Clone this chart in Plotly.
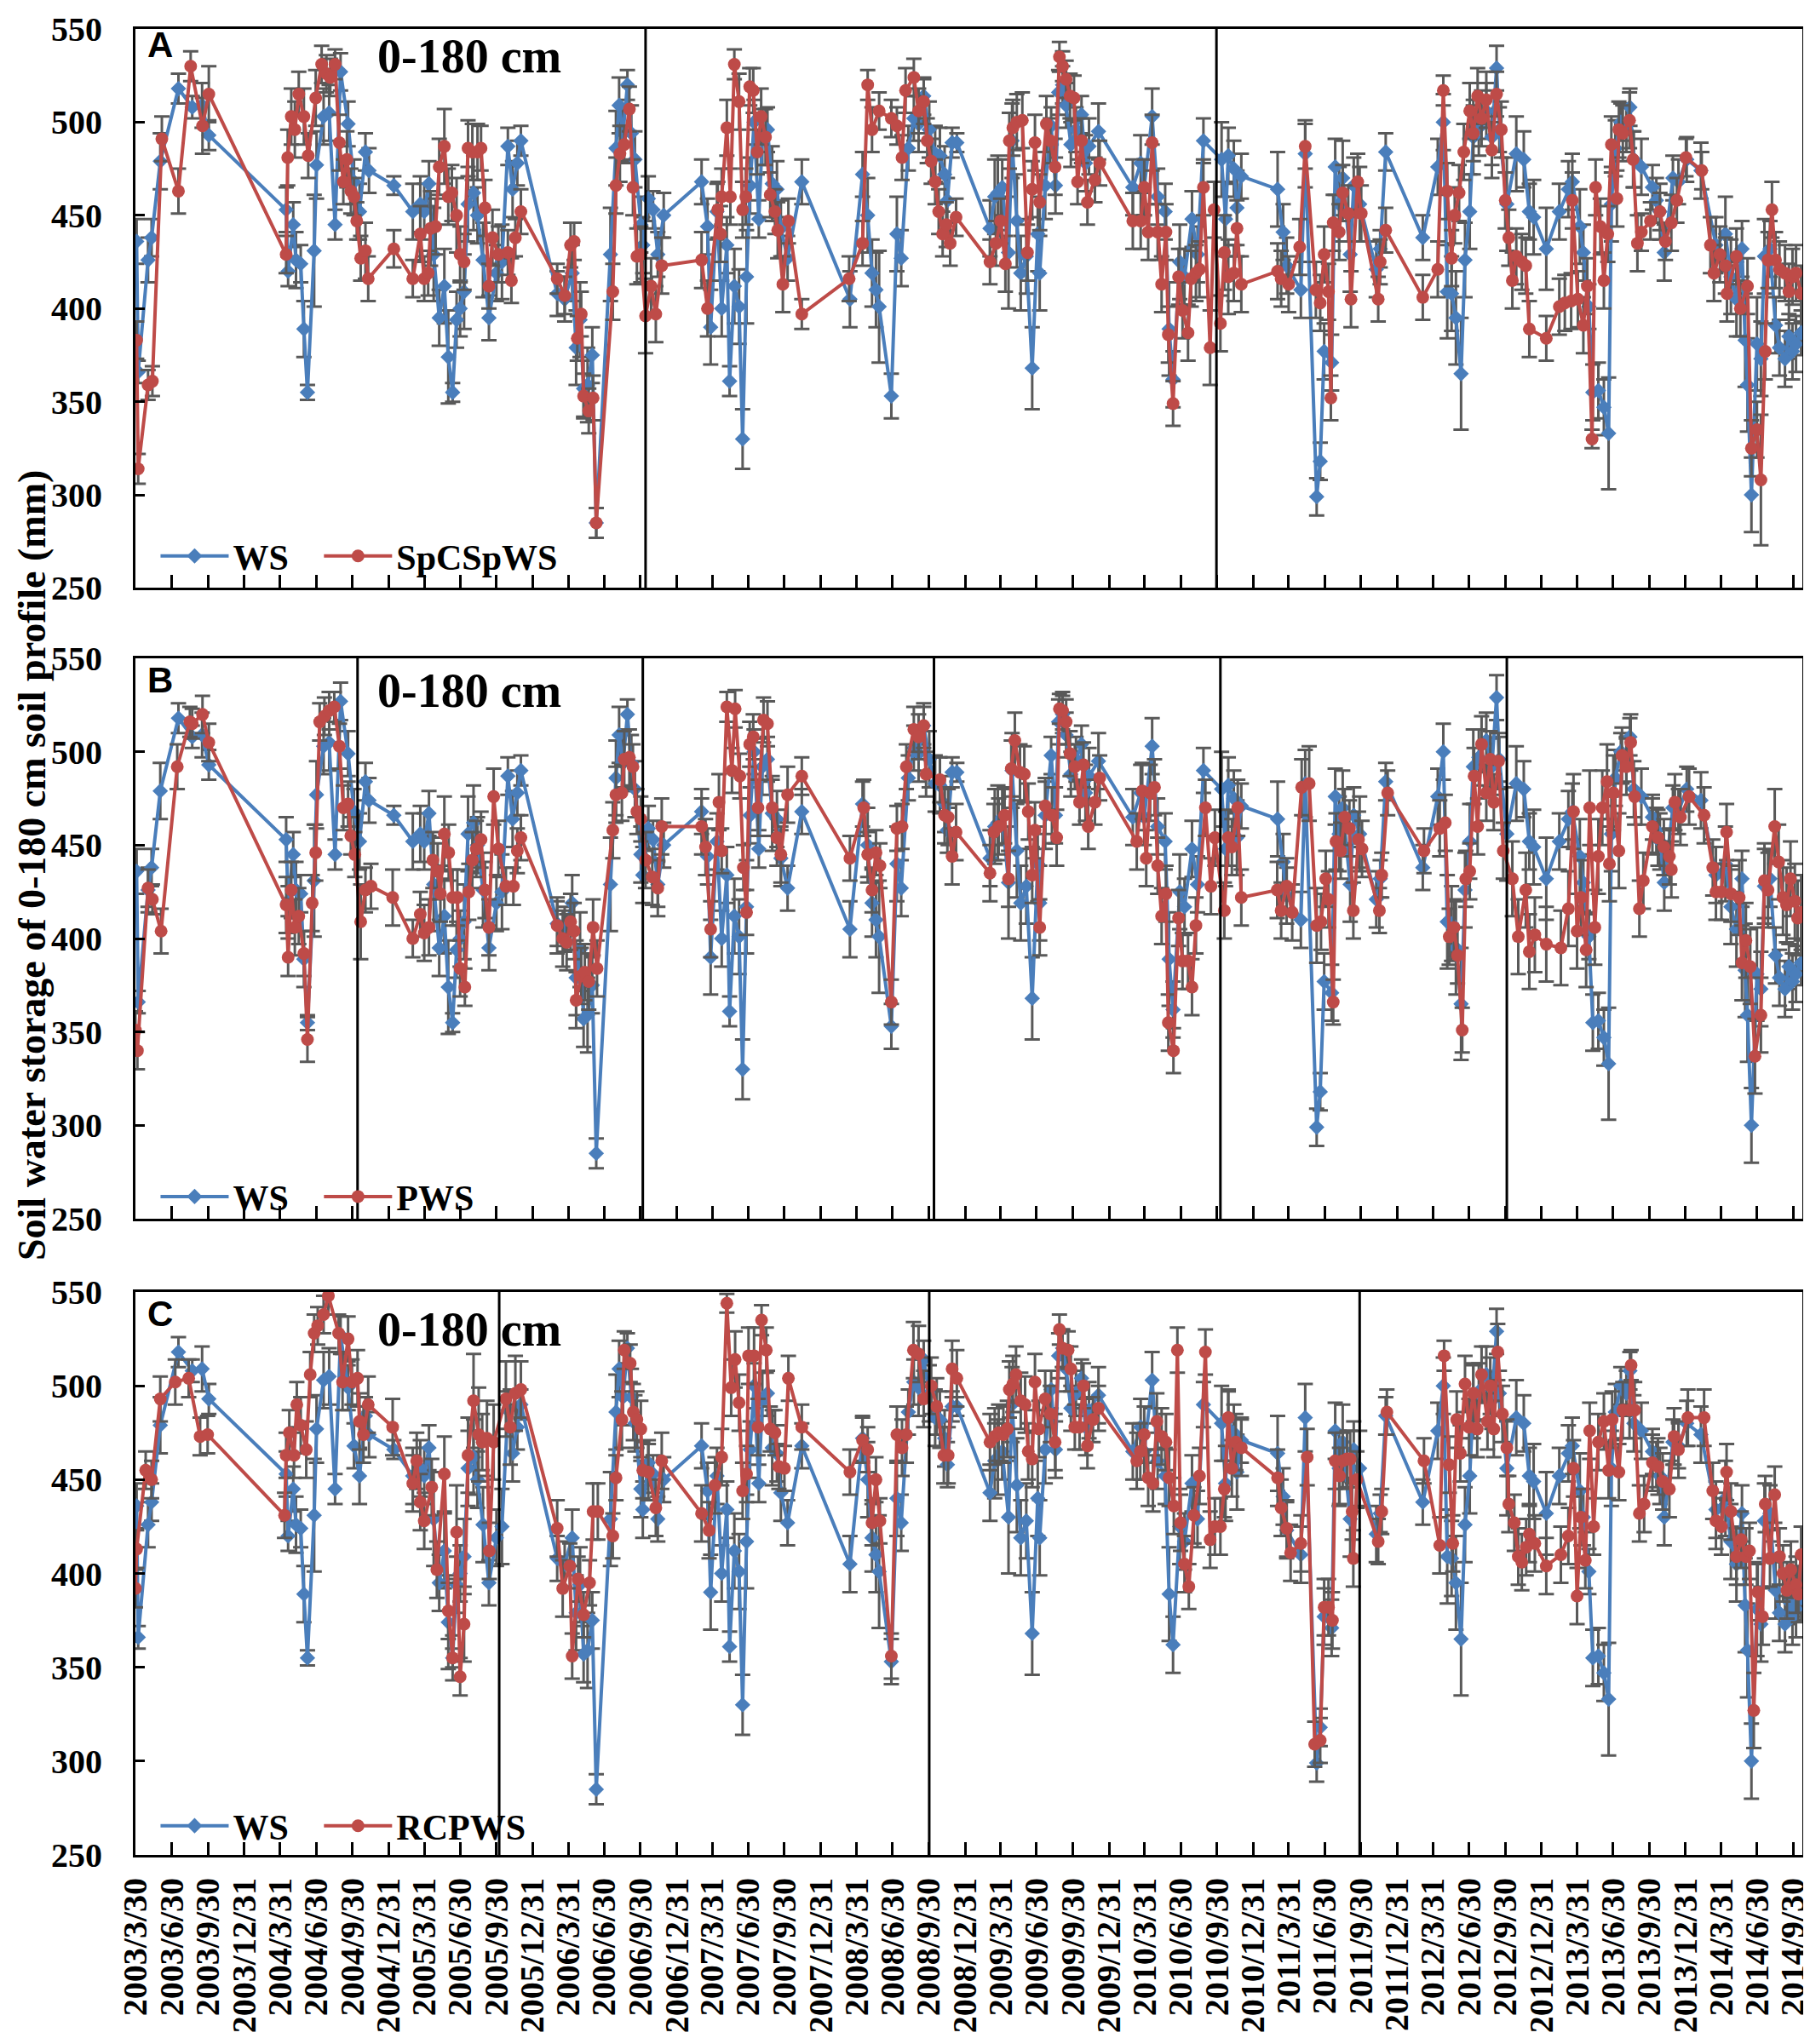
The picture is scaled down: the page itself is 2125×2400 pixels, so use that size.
import pandas as pd
import plotly.graph_objects as go

# days counted from 2003/3/30 (left edge of the axis), values in mm

start = pd.Timestamp("2003-03-30")

tick_labels = [
    "2003/3/30", "2003/6/30", "2003/9/30", "2003/12/31",
    "2004/3/31", "2004/6/30", "2004/9/30", "2004/12/31",
    "2005/3/31", "2005/6/30", "2005/9/30", "2005/12/31",
    "2006/3/31", "2006/6/30", "2006/9/30", "2006/12/31",
    "2007/3/31", "2007/6/30", "2007/9/30", "2007/12/31",
    "2008/3/31", "2008/6/30", "2008/9/30", "2008/12/31",
    "2009/3/31", "2009/6/30", "2009/9/30", "2009/12/31",
    "2010/3/31", "2010/6/30", "2010/9/30", "2010/12/31",
    "2011/3/31", "2011/6/30", "2011/9/30", "2011/12/31",
    "2012/3/31", "2012/6/30", "2012/9/30", "2012/12/31",
    "2013/3/31", "2013/6/30", "2013/9/30", "2013/12/31",
    "2014/3/31", "2014/6/30", "2014/9/30",
]

# WS (same in the three panels)
ws_day = [
    3, 7, 32, 41, 63, 109, 144, 169, 186, 382,
    387, 400, 407, 419, 427, 436, 453, 459, 477, 491,
    506, 520, 539, 554, 568, 583, 592, 655, 703, 722,
    732, 744, 756, 770, 783, 793, 804, 814, 823, 833,
    843, 857, 867, 881, 896, 915, 929, 944, 956, 968,
    977, 1069, 1088, 1107, 1117, 1127, 1136, 1146, 1158, 1168,
    1204, 1218, 1226, 1236, 1247, 1257, 1266, 1281, 1286, 1300,
    1312, 1324, 1339, 1435, 1450, 1458, 1474, 1486, 1499, 1506,
    1518, 1530, 1539, 1549, 1558, 1568, 1580, 1589, 1602, 1614,
    1626, 1636, 1653, 1689, 1811, 1843, 1856, 1867, 1877, 1885,
    1916, 1930, 1941, 1959, 1973, 1985, 1998, 2012, 2027, 2039,
    2051, 2058, 2070, 2082, 2166, 2178, 2186, 2197, 2213, 2222,
    2234, 2244, 2258, 2273, 2287, 2292, 2306, 2321, 2332, 2340,
    2350, 2359, 2371, 2384, 2398, 2408, 2417, 2441, 2528, 2548,
    2557, 2577, 2591, 2610, 2620, 2630, 2647, 2659, 2678, 2692,
    2707, 2753, 2763, 2770, 2784, 2792, 2803, 2895, 2909, 2918,
    2954, 2965, 2994, 3003, 3013, 3032, 3041, 3051, 3060, 3079,
    3088, 3103, 3145, 3155, 3169, 3263, 3301, 3315, 3325, 3336,
    3347, 3360, 3370, 3382, 3391, 3405, 3424, 3438, 3450, 3457,
    3476, 3500, 3519, 3533, 3544, 3576, 3609, 3632, 3642, 3661,
    3670, 3684, 3694, 3708, 3722, 3734, 3741, 3751, 3765, 3779,
    3788, 3798, 3817, 3845, 3855, 3864, 3875, 3897, 3911, 3932,
    3968, 4006, 4030, 4044, 4058, 4072, 4080, 4086, 4096, 4110,
    4120, 4129, 4143, 4157, 4167, 4181, 4191, 4200, 4209, 4222,
]
ws_val = [
    436, 366, 426, 438, 479, 518, 508, 509, 493, 453,
    420, 445, 426, 424, 389, 355, 431, 477, 503, 505,
    445, 527, 499, 468, 452, 484, 474, 466, 452, 456,
    452, 467, 429, 395, 412, 374, 355, 394, 400, 409,
    456, 462, 450, 426, 395, 419, 425, 487, 464, 478,
    490, 408, 405, 419, 379, 394, 357, 359, 375, 285,
    429, 486, 509, 494, 520, 494, 480, 445, 434, 459,
    453, 429, 450, 468, 444, 390, 452, 400, 434, 361,
    412, 401, 330, 417, 466, 500, 448, 492, 496, 467,
    464, 443, 427, 468, 405, 472, 450, 419, 410, 401,
    353, 440, 427, 486, 502, 499, 514, 496, 483, 482,
    472, 458, 489, 489, 443, 460, 462, 465, 430, 490,
    447, 419, 428, 368, 440, 419, 466, 498, 466, 516,
    520, 509, 488, 496, 504, 478, 487, 495, 465, 478,
    465, 503, 460, 452, 389, 362, 425, 417, 448, 429,
    490, 480, 448, 482, 475, 454, 471, 464, 441, 423,
    410, 483, 299, 318, 377, 371, 476, 456, 470, 429,
    466, 456, 421, 432, 484, 438, 476, 500, 409, 408,
    395, 365, 426, 452, 492, 497, 506, 492, 529, 496,
    456, 483, 480, 452, 449, 432, 452, 464, 468, 444,
    430, 401, 355, 356, 347, 333, 456, 486, 500, 496,
    508, 480, 476, 465, 458, 452, 430, 470, 468, 480,
    474, 434, 440, 417, 405, 432, 383, 359, 300, 381,
    373, 428, 432, 391, 379, 373, 385, 377, 381, 387,
]
ws_err = [
    12, 6, 12, 10, 15, 8, 6, 12, 8, 12,
    8, 12, 15, 10, 15, 4, 30, 18, 15, 15,
    8, 10, 12, 12, 15, 10, 12, 5, 15, 15,
    15, 12, 25, 15, 20, 25, 5, 15, 15, 20,
    20, 20, 15, 20, 12, 15, 20, 10, 15, 12,
    8, 12, 12, 15, 20, 20, 15, 20, 15, 8,
    25, 20, 15, 15, 8, 15, 15, 15, 15, 12,
    10, 12, 12, 12, 15, 20, 15, 15, 15, 8,
    20, 20, 16, 25, 15, 12, 10, 15, 12, 20,
    15, 15, 12, 12, 15, 12, 20, 18, 20, 30,
    12, 20, 15, 12, 12, 15, 10, 15, 15, 15,
    15, 12, 8, 5, 15, 20, 20, 15, 30, 20,
    25, 20, 20, 22, 20, 20, 18, 10, 15, 12,
    10, 12, 12, 12, 10, 15, 15, 15, 15, 15,
    15, 15, 15, 15, 25, 15, 20, 15, 15, 15,
    12, 20, 20, 15, 15, 20, 12, 20, 15, 15,
    15, 18, 10, 10, 15, 15, 15, 20, 20, 20,
    15, 20, 15, 10, 10, 12, 15, 15, 25, 20,
    25, 30, 20, 20, 20, 15, 15, 15, 12, 12,
    25, 20, 15, 15, 20, 22, 15, 15, 15, 20,
    15, 12, 15, 15, 15, 30, 20, 15, 10, 12,
    10, 15, 15, 12, 12, 15, 15, 12, 12, 12,
    15, 15, 20, 20, 20, 15, 25, 25, 20, 25,
    20, 20, 15, 15, 15, 15, 12, 15, 15, 12,
]

# panel A: SpCSpWS
spc_day = [
    3, 7, 32, 43, 67, 109, 140, 170, 186, 382,
    386, 395, 404, 414, 427, 438, 457, 472, 484, 494,
    506, 517, 527, 536, 546, 554, 561, 571, 583, 590,
    655, 703, 722, 732, 742, 748, 761, 770, 783, 793,
    802, 814, 823, 833, 843, 854, 867, 876, 886, 896,
    905, 920, 944, 953, 963, 977, 1069, 1088, 1103, 1112,
    1120, 1130, 1136, 1149, 1160, 1168, 1210, 1218, 1228, 1239,
    1252, 1261, 1271, 1281, 1293, 1307, 1319, 1334, 1435, 1450,
    1476, 1483, 1486, 1499, 1508, 1518, 1530, 1539, 1547, 1557,
    1566, 1576, 1586, 1597, 1609, 1621, 1628, 1641, 1655, 1689,
    1809, 1843, 1856, 1867, 1885, 1916, 1930, 1943, 1952, 1973,
    1985, 1998, 2007, 2017, 2027, 2036, 2046, 2055, 2065, 2080,
    2166, 2181, 2193, 2205, 2215, 2224, 2234, 2248, 2261, 2273,
    2280, 2292, 2309, 2319, 2331, 2342, 2350, 2359, 2369, 2379,
    2388, 2398, 2413, 2432, 2444, 2528, 2548, 2557, 2567, 2577,
    2591, 2601, 2612, 2618, 2630, 2644, 2654, 2668, 2676, 2688,
    2697, 2707, 2724, 2734, 2750, 2760, 2770, 2784, 2792, 2803,
    2895, 2904, 2923, 2951, 2965, 2992, 3003, 3013, 3024, 3030,
    3036, 3051, 3060, 3074, 3081, 3098, 3107, 3150, 3155, 3169,
    3263, 3301, 3315, 3325, 3336, 3344, 3355, 3367, 3382, 3391,
    3402, 3412, 3424, 3438, 3450, 3462, 3472, 3481, 3490, 3500,
    3514, 3524, 3533, 3576, 3609, 3623, 3639, 3642, 3656, 3670,
    3680, 3692, 3701, 3713, 3722, 3732, 3741, 3755, 3760, 3770,
    3787, 3796, 3807, 3817, 3840, 3864, 3878, 3893, 3907, 3930,
    3970, 3992, 4001, 4016, 4030, 4034, 4058, 4068, 4086, 4096,
    4110, 4120, 4131, 4138, 4148, 4157, 4167, 4181, 4191, 4200,
    4209, 4222,
]
spc_val = [
    383, 314, 359, 361, 491, 463, 530, 498, 515, 429,
    481, 503, 496, 515, 503, 482, 513, 531, 526, 524,
    531, 489, 468, 480, 463, 460, 447, 427, 431, 416,
    432, 416, 440, 416, 419, 443, 444, 476, 487, 460,
    462, 450, 429, 425, 486, 484, 484, 486, 454, 412,
    438, 429, 430, 415, 438, 452, 416, 407, 434, 436,
    384, 397, 353, 345, 352, 285, 409, 466, 483, 488,
    507, 465, 428, 429, 396, 412, 397, 423, 426, 400,
    453, 440, 460, 497, 460, 531, 511, 453, 460, 519,
    517, 484, 503, 492, 461, 452, 442, 413, 447, 397,
    416, 435, 520, 496, 506, 502, 498, 481, 517, 524,
    506, 511, 490, 479, 468, 452, 440, 445, 435, 449,
    425, 435, 447, 424, 490, 497, 500, 501, 430, 464,
    489, 457, 499, 490, 476, 535, 530, 523, 514, 513,
    468, 490, 457, 469, 478, 447, 447, 465, 441, 489,
    441, 413, 441, 386, 349, 417, 399, 387, 416, 419,
    421, 465, 379, 453, 392, 430, 417, 419, 443, 413,
    420, 416, 413, 433, 487, 410, 403, 429, 409, 352,
    446, 441, 462, 451, 405, 468, 451, 405, 425, 442,
    406, 421, 517, 463, 427, 450, 462, 484, 506, 494,
    514, 502, 512, 485, 515, 496, 458, 438, 415, 428,
    425, 423, 389, 384, 401, 403, 404, 458, 405, 391,
    412, 330, 465, 444, 415, 440, 488, 459, 496, 494,
    501, 480, 435, 441, 447, 452, 436, 446, 458, 481,
    474, 434, 419, 429, 423, 408, 428, 400, 412, 325,
    335, 308, 377, 426, 453, 426, 421, 419, 409, 417,
    419, 408,
]
spc_err = [
    10, 8, 8, 8, 12, 12, 8, 15, 15, 10,
    15, 15, 15, 12, 15, 12, 15, 10, 10, 10,
    8, 15, 12, 15, 12, 10, 10, 12, 15, 12,
    10, 10, 15, 12, 12, 20, 15, 15, 20, 15,
    15, 20, 15, 15, 15, 15, 15, 12, 15, 12,
    15, 15, 12, 12, 10, 12, 8, 10, 12, 10,
    12, 12, 12, 12, 12, 8, 15, 15, 15, 10,
    12, 15, 15, 15, 20, 15, 15, 15, 15, 15,
    15, 15, 15, 15, 15, 8, 15, 15, 15, 10,
    12, 12, 15, 15, 12, 12, 15, 15, 12, 8,
    12, 12, 8, 12, 10, 10, 10, 12, 12, 10,
    12, 12, 12, 12, 12, 12, 12, 12, 12, 10,
    12, 12, 12, 15, 15, 15, 15, 15, 15, 15,
    15, 15, 15, 12, 15, 8, 8, 10, 12, 12,
    12, 12, 12, 12, 12, 15, 15, 15, 15, 15,
    15, 15, 15, 15, 12, 15, 15, 15, 15, 15,
    15, 15, 20, 15, 15, 20, 20, 15, 15, 15,
    15, 15, 15, 15, 12, 15, 15, 15, 15, 12,
    15, 15, 15, 15, 15, 15, 15, 12, 12, 12,
    12, 15, 8, 15, 15, 15, 15, 15, 15, 15,
    15, 15, 15, 15, 12, 15, 15, 15, 15, 15,
    15, 15, 15, 12, 15, 15, 15, 15, 15, 15,
    15, 5, 15, 15, 15, 15, 15, 15, 15, 15,
    15, 15, 15, 10, 10, 10, 10, 15, 12, 10,
    10, 15, 15, 15, 15, 15, 15, 15, 15, 15,
    15, 35, 15, 15, 15, 15, 15, 15, 15, 15,
    15, 15,
]

# panel B: PWS
pws_day = [
    0, 5, 32, 43, 65, 106, 138, 144, 170, 186,
    382, 387, 395, 404, 414, 427, 436, 448, 457, 467,
    479, 491, 504, 517, 527, 539, 546, 556, 571, 583,
    597, 652, 703, 722, 732, 744, 754, 766, 773, 783,
    794, 804, 816, 823, 835, 845, 854, 864, 876, 886,
    896, 908, 920, 939, 958, 968, 977, 1069, 1083, 1093,
    1103, 1112, 1117, 1130, 1139, 1149, 1160, 1170, 1210, 1218,
    1233, 1239, 1252, 1261, 1271, 1281, 1293, 1310, 1324, 1334,
    1435, 1445, 1458, 1479, 1486, 1499, 1512, 1520, 1532, 1541,
    1549, 1557, 1566, 1578, 1592, 1602, 1614, 1626, 1636, 1653,
    1689, 1811, 1846, 1856, 1867, 1877, 1887, 1916, 1930, 1943,
    1954, 1973, 1985, 1998, 2004, 2039, 2051, 2060, 2070, 2080,
    2166, 2176, 2188, 2203, 2213, 2220, 2229, 2242, 2253, 2263,
    2273, 2280, 2292, 2306, 2323, 2335, 2342, 2350, 2359, 2369,
    2381, 2393, 2403, 2415, 2432, 2444, 2538, 2552, 2562, 2572,
    2583, 2591, 2601, 2612, 2618, 2631, 2644, 2654, 2668, 2678,
    2688, 2712, 2726, 2736, 2760, 2770, 2779, 2794, 2803, 2894,
    2904, 2918, 2932, 2956, 2975, 2994, 3005, 3017, 3024, 3036,
    3043, 3055, 3065, 3077, 3087, 3100, 3109, 3153, 3159, 3174,
    3266, 3306, 3320, 3330, 3342, 3351, 3363, 3372, 3382, 3393,
    3402, 3412, 3424, 3434, 3443, 3455, 3467, 3490, 3505, 3524,
    3533, 3547, 3576, 3613, 3632, 3645, 3654, 3664, 3677, 3686,
    3699, 3708, 3718, 3730, 3736, 3746, 3760, 3768, 3779, 3790,
    3800, 3812, 3822, 3845, 3859, 3874, 3888, 3893, 3902, 3916,
    3938, 3976, 3998, 4006, 4020, 4033, 4044, 4065, 4072, 4082,
    4093, 4105, 4120, 4129, 4138, 4155, 4165, 4176, 4185, 4195,
    4206, 4213, 4222,
]
pws_val = [
    351, 340, 427, 421, 404, 492, 516, 515, 520, 505,
    418, 390, 426, 406, 412, 392, 346, 419, 446, 516,
    519, 522, 524, 503, 470, 472, 455, 445, 409, 426,
    428, 422, 400, 413, 403, 406, 442, 436, 424, 456,
    446, 422, 422, 384, 374, 425, 442, 448, 453, 426,
    406, 476, 448, 428, 428, 447, 454, 407, 400, 398,
    409, 404, 367, 380, 382, 377, 406, 384, 458, 477,
    478, 496, 497, 492, 468, 464, 442, 433, 427, 460,
    460, 449, 405, 473, 447, 524, 490, 523, 487, 438,
    414, 504, 508, 470, 517, 515, 470, 454, 445, 477,
    487, 443, 470, 445, 426, 446, 439, 366, 459, 460,
    492, 512, 508, 514, 488, 485, 466, 465, 444, 457,
    435, 457, 460, 466, 432, 491, 506, 489, 488, 468,
    434, 458, 406, 471, 466, 454, 523, 522, 516, 499,
    492, 473, 493, 460, 473, 486, 452, 479, 443, 478,
    481, 439, 412, 424, 355, 340, 411, 388, 388, 374,
    407, 470, 428, 454, 415, 454, 449, 470, 422, 426,
    415, 428, 414, 481, 483, 407, 409, 432, 421, 366,
    452, 447, 465, 459, 415, 453, 448, 415, 434, 478,
    447, 459, 462, 401, 406, 391, 351, 432, 436, 487,
    460, 504, 478, 496, 473, 495, 447, 432, 401, 426,
    393, 402, 397, 395, 416, 468, 404, 422, 394, 470,
    406, 444, 470, 484, 440, 478, 447, 498, 492, 505,
    476, 416, 431, 460, 454, 449, 444, 437, 473, 465,
    476, 466, 438, 425, 425, 457, 424, 422, 387, 399,
    385, 337, 359, 431, 426, 460, 441, 422, 418, 432,
    420, 411, 414,
]
pws_err = [
    10, 10, 10, 8, 12, 12, 8, 8, 10, 10,
    15, 10, 15, 15, 15, 12, 12, 15, 15, 10,
    10, 10, 8, 12, 12, 12, 10, 12, 20, 12,
    12, 15, 10, 12, 15, 15, 15, 15, 15, 20,
    15, 15, 15, 15, 10, 15, 15, 15, 15, 15,
    15, 15, 15, 10, 10, 12, 12, 15, 15, 15,
    15, 15, 15, 15, 15, 15, 15, 15, 15, 15,
    15, 15, 15, 12, 12, 12, 15, 15, 15, 15,
    15, 15, 15, 15, 12, 8, 12, 10, 12, 12,
    12, 12, 12, 15, 12, 12, 15, 15, 15, 15,
    10, 12, 15, 12, 12, 12, 12, 12, 12, 12,
    12, 12, 12, 12, 12, 12, 15, 15, 15, 15,
    15, 15, 15, 15, 15, 15, 15, 15, 15, 15,
    15, 15, 15, 15, 15, 15, 8, 10, 12, 12,
    12, 12, 12, 12, 12, 12, 15, 15, 15, 15,
    15, 15, 15, 15, 15, 12, 15, 15, 15, 15,
    15, 15, 15, 15, 15, 15, 15, 15, 15, 15,
    15, 15, 15, 15, 20, 20, 15, 15, 15, 12,
    15, 15, 15, 15, 15, 15, 15, 12, 12, 12,
    12, 15, 15, 15, 15, 15, 12, 15, 15, 15,
    15, 15, 15, 15, 15, 15, 15, 20, 20, 20,
    20, 20, 20, 20, 20, 20, 20, 20, 20, 20,
    20, 20, 20, 20, 20, 20, 20, 15, 15, 15,
    15, 15, 15, 15, 15, 15, 15, 15, 15, 15,
    15, 15, 15, 15, 15, 15, 15, 20, 20, 20,
    20, 20, 20, 20, 20, 20, 20, 20, 20, 20,
    20, 20, 20,
]

# panel C: RCPWS
rcp_day = [
    0, 3, 26, 41, 63, 101, 135, 164, 183, 378,
    382, 390, 402, 409, 419, 433, 443, 453, 462, 477,
    489, 515, 525, 539, 549, 563, 568, 578, 590, 652,
    703, 713, 722, 732, 751, 764, 783, 793, 804, 814,
    823, 833, 843, 857, 870, 879, 891, 897, 908, 939,
    950, 963, 977, 1069, 1083, 1101, 1107, 1122, 1136, 1151,
    1160, 1172, 1210, 1218, 1233, 1239, 1254, 1262, 1271, 1281,
    1286, 1300, 1319, 1334, 1435, 1454, 1469, 1486, 1499, 1510,
    1520, 1530, 1539, 1549, 1554, 1568, 1578, 1587, 1599, 1609,
    1621, 1631, 1645, 1655, 1689, 1811, 1843, 1856, 1867, 1877,
    1887, 1916, 1930, 1943, 1954, 1972, 1985, 1998, 2017, 2031,
    2049, 2060, 2070, 2082, 2166, 2178, 2188, 2200, 2210, 2215,
    2224, 2232, 2244, 2255, 2263, 2273, 2280, 2290, 2306, 2319,
    2331, 2342, 2350, 2364, 2371, 2381, 2393, 2403, 2413, 2427,
    2441, 2538, 2547, 2557, 2567, 2579, 2589, 2601, 2612, 2620,
    2632, 2641, 2649, 2659, 2670, 2683, 2697, 2712, 2724, 2736,
    2750, 2760, 2770, 2779, 2789, 2803, 2895, 2904, 2918, 2928,
    2954, 2970, 2989, 3003, 3013, 3024, 3034, 3041, 3052, 3060,
    3071, 3079, 3084, 3087, 3096, 3150, 3159, 3172, 3266, 3306,
    3317, 3330, 3339, 3349, 3358, 3370, 3380, 3391, 3401, 3412,
    3427, 3434, 3443, 3453, 3465, 3476, 3481, 3495, 3505, 3514,
    3525, 3533, 3547, 3576, 3613, 3632, 3645, 3654, 3664, 3675,
    3686, 3696, 3708, 3722, 3734, 3743, 3760, 3770, 3787, 3791,
    3800, 3812, 3824, 3845, 3859, 3871, 3888, 3900, 3911, 3935,
    3976, 3998, 4006, 4020, 4033, 4044, 4058, 4070, 4082, 4091,
    4102, 4112, 4124, 4131, 4143, 4155, 4167, 4176, 4186, 4196,
    4209, 4215, 4222,
]
rcp_val = [
    392, 413, 455, 450, 493, 502, 504, 473, 474, 431,
    463, 475, 463, 490, 479, 466, 506, 528, 532, 538,
    548, 528, 502, 525, 502, 504, 481, 474, 490, 478,
    448, 460, 438, 428, 446, 402, 453, 380, 355, 422,
    345, 373, 463, 492, 474, 470, 472, 412, 470, 493,
    478, 496, 498, 424, 392, 404, 356, 397, 378, 395,
    433, 433, 420, 451, 482, 519, 512, 486, 482, 477,
    455, 454, 435, 460, 432, 423, 447, 462, 544, 499,
    514, 491, 444, 453, 516, 516, 478, 535, 519, 477,
    475, 457, 456, 504, 478, 454, 471, 466, 427, 450,
    428, 356, 474, 467, 474, 519, 517, 493, 500, 489,
    463, 463, 509, 504, 470, 473, 475, 474, 477, 498,
    501, 506, 492, 490, 465, 461, 502, 477, 493, 485,
    470, 530, 520, 519, 509, 478, 478, 500, 468, 482,
    488, 460, 465, 474, 451, 448, 481, 473, 470, 451,
    436, 519, 427, 405, 393, 431, 452, 518, 418, 425,
    425, 445, 483, 456, 470, 467, 451, 435, 424, 411,
    416, 462, 309, 311, 382, 382, 375, 460, 452, 460,
    461, 461, 433, 408, 450, 417, 433, 486, 460, 415,
    516, 458, 416, 482, 464, 501, 478, 496, 477, 506,
    481, 500, 477, 518, 485, 467, 437, 427, 409, 406,
    414, 421, 416, 404, 410, 420, 456, 388, 430, 407,
    476, 425, 470, 481, 455, 482, 454, 487, 487, 511,
    487, 432, 437, 459, 457, 449, 445, 473, 466, 483,
    483, 444, 428, 425, 454, 433, 409, 418, 409, 412,
    327, 390, 377, 437, 408, 442, 409, 400, 391, 402,
    394, 389, 410,
]
rcp_err = [
    10, 10, 10, 10, 12, 12, 10, 10, 10, 12,
    12, 12, 12, 12, 15, 15, 12, 10, 10, 10,
    10, 10, 15, 12, 12, 15, 15, 15, 15, 15,
    15, 15, 15, 15, 15, 15, 20, 15, 12, 25,
    10, 20, 20, 25, 25, 15, 20, 15, 20, 20,
    20, 20, 15, 15, 15, 12, 12, 12, 12, 12,
    15, 15, 12, 12, 15, 10, 10, 15, 15, 15,
    15, 15, 15, 15, 15, 15, 15, 15, 5, 15,
    15, 15, 15, 15, 15, 15, 15, 8, 12, 12,
    12, 12, 12, 12, 12, 12, 12, 12, 12, 12,
    12, 12, 15, 15, 15, 15, 15, 15, 15, 15,
    15, 15, 15, 15, 15, 15, 15, 15, 15, 15,
    15, 15, 15, 15, 15, 15, 15, 15, 15, 15,
    15, 8, 10, 10, 12, 12, 12, 12, 12, 12,
    12, 15, 15, 15, 15, 15, 15, 15, 15, 15,
    15, 12, 15, 15, 12, 15, 15, 12, 15, 15,
    15, 15, 15, 15, 15, 15, 15, 15, 15, 15,
    15, 15, 12, 12, 15, 15, 15, 15, 15, 15,
    15, 15, 15, 15, 15, 12, 12, 12, 12, 15,
    8, 15, 15, 15, 15, 15, 15, 15, 15, 15,
    15, 15, 15, 15, 15, 15, 15, 15, 15, 15,
    15, 15, 15, 15, 15, 15, 15, 15, 15, 15,
    15, 15, 15, 15, 15, 15, 15, 15, 15, 8,
    15, 15, 15, 15, 15, 15, 15, 15, 15, 15,
    15, 15, 15, 15, 15, 15, 15, 15, 15, 15,
    20, 15, 15, 15, 15, 15, 15, 15, 15, 15,
    15, 15, 15,
]

# vertical separators (days since 2003/3/30)
split_a = [1293, 2740]
split_b = [563, 1286, 2024, 2750, 3476]
split_c = [922, 2012, 3103]

for d, v, e in [(ws_day, ws_val, ws_err), (spc_day, spc_val, spc_err),
                (pws_day, pws_val, pws_err), (rcp_day, rcp_val, rcp_err)]:
    assert len(d) == len(v) == len(e), (len(d), len(v), len(e))


def to_date(days):
    return start + pd.to_timedelta(days, unit="D")


BLUE = "#4A7EBB"
RED = "#BE4B48"
ERR = "#595959"
SERIF = "Liberation Serif"
NB = "\u00a0"

fig = go.Figure()

panels = [
    ("", "legend", "SpCSpWS", spc_day, spc_val, spc_err),
    ("2", "legend2", "PWS", pws_day, pws_val, pws_err),
    ("3", "legend3", "RCPWS", rcp_day, rcp_val, rcp_err),
]

for sfx, leg, name, d, v, e in panels:
    fig.add_trace(go.Scatter(
        x=to_date(ws_day), y=ws_val, name="WS" + NB * 3, mode="lines+markers",
        xaxis="x" + sfx, yaxis="y" + sfx, legend=leg,
        line=dict(color=BLUE, width=4),
        marker=dict(symbol="diamond", size=14, color=BLUE),
        error_y=dict(type="data", array=ws_err, color=ERR, thickness=3, width=9),
    ))
    fig.add_trace(go.Scatter(
        x=to_date(d), y=v, name=name, mode="lines+markers",
        xaxis="x" + sfx, yaxis="y" + sfx, legend=leg,
        line=dict(color=RED, width=4),
        marker=dict(symbol="circle", size=15, color=RED),
        error_y=dict(type="data", array=e, color=ERR, thickness=3, width=9),
    ))

tickvals = pd.to_datetime(tick_labels, format="%Y/%m/%d")
xrange = [start, pd.Timestamp("2014-10-23")]

xbase = dict(
    range=xrange, tickvals=tickvals, ticktext=tick_labels, ticks="inside",
    ticklen=15, tickwidth=2.5, tickcolor="black", showgrid=False, zeroline=False,
    showline=True, linecolor="black", linewidth=3, mirror=True, automargin=False,
)
ybase = dict(
    range=[250, 550], dtick=50, ticks="inside", ticklen=11, tickwidth=2.5,
    tickcolor="black", showgrid=False, zeroline=False, showline=True,
    linecolor="black", linewidth=3, mirror=True, ticklabelstandoff=28,
    automargin=False, ticklabeloverflow="allow",
    tickfont=dict(family=SERIF, size=40, color="black", weight="bold"),
)

fig.update_layout(
    width=2125, height=2400,
    margin=dict(l=151, r=17, t=26, b=230),
    paper_bgcolor="white", plot_bgcolor="white",
    xaxis=dict(xbase, anchor="y", showticklabels=False),
    xaxis2=dict(xbase, anchor="y2", showticklabels=False),
    xaxis3=dict(xbase, anchor="y3", showticklabels=True, tickangle=-90,
                ticklabelstandoff=8,
                tickfont=dict(family=SERIF, size=40, color="black", weight="bold")),
    yaxis=dict(ybase, domain=[0.6938, 1.0], anchor="x"),
    yaxis2=dict(ybase, domain=[0.3484, 0.6553], anchor="x2"),
    yaxis3=dict(ybase, domain=[0.0, 0.3083], anchor="x3"),
    showlegend=True,
)

legend_style = dict(
    orientation="h", xanchor="left", yanchor="middle", x=0.0125,
    bgcolor="rgba(0,0,0,0)", itemwidth=80,
    font=dict(family=SERIF, size=42, color="black", weight="bold"),
)
fig.update_layout(
    legend=dict(legend_style, y=0.7113),
    legend2=dict(legend_style, y=0.3605),
    legend3=dict(legend_style, y=0.0159),
)

# vertical separator lines
for sfx, splits in [("", split_a), ("2", split_b), ("3", split_c)]:
    for d in splits:
        fig.add_shape(type="line", xref="x" + sfx, yref="y" + sfx + " domain",
                      x0=to_date(d), x1=to_date(d), y0=0, y1=1,
                      line=dict(color="black", width=3))

# panel letters and depth labels
for letter, ly, dy in [("A", 0.9916, 0.9851), ("B", 0.6432, 0.6376), ("C", 0.2962, 0.2878)]:
    fig.add_annotation(text=letter, xref="paper", yref="paper", x=0.0061, y=ly,
                       xanchor="left", yanchor="middle", showarrow=False,
                       font=dict(family="Liberation Sans", size=42, color="black", weight="bold"))
    fig.add_annotation(text="0-180 cm", xref="paper", yref="paper", x=0.2003, y=dy,
                       xanchor="center", yanchor="middle", showarrow=False,
                       font=dict(family=SERIF, size=56, color="black", weight="bold"))

fig.add_annotation(text="Soil water storage of 0-180 cm soil profile (mm)",
                   xref="paper", yref="paper", x=-0.0618, y=0.542, textangle=-90,
                   xanchor="center", yanchor="middle", showarrow=False,
                   font=dict(family=SERIF, size=46, color="black", weight="bold"))

fig.write_html("out.html")
